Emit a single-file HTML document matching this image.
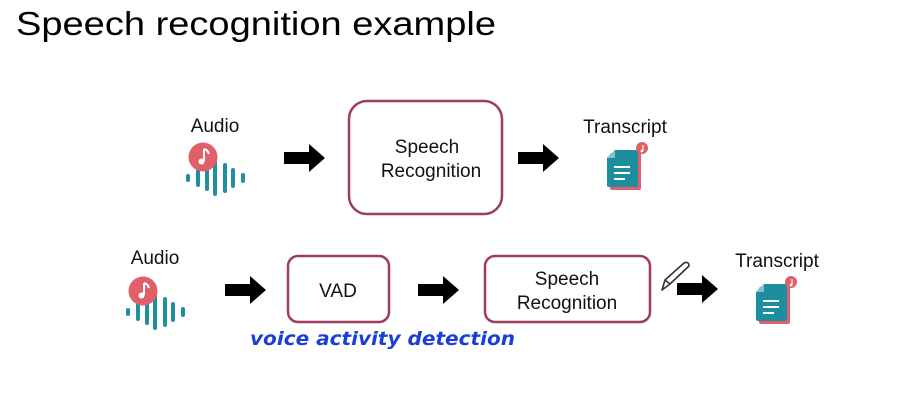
<!DOCTYPE html>
<html><head><meta charset="utf-8"><style>
html,body{margin:0;padding:0;background:#fff;width:910px;height:410px;overflow:hidden}
</style></head><body>
<svg width="910" height="410" viewBox="0 0 910 410" xmlns="http://www.w3.org/2000/svg">
<defs>
<g id="audio">
  <rect x="-17" y="-4" width="4" height="8" rx="2" fill="#1f8fa1"/>
  <rect x="-7" y="-9" width="4" height="18" rx="2" fill="#1f8fa1"/>
  <rect x="2" y="-13" width="4" height="26" rx="2" fill="#1f8fa1"/>
  <rect x="10" y="-18" width="4" height="36" rx="2" fill="#1f8fa1"/>
  <rect x="20" y="-15" width="4" height="30" rx="2" fill="#1f8fa1"/>
  <rect x="28" y="-10" width="4" height="20" rx="2" fill="#1f8fa1"/>
  <rect x="38" y="-5" width="4" height="10" rx="2" fill="#1f8fa1"/>
  <circle cx="0" cy="-21" r="14.5" fill="#e05f69"/>
  <path d="M1 -29 L1 -17" stroke="#fff" stroke-width="2"/>
  <path d="M1 -29 Q5 -28 6 -24" stroke="#fff" stroke-width="2" fill="none"/>
  <circle cx="-1.5" cy="-16.5" r="3" fill="#fff"/>
</g>
<g id="doc">
  <rect x="3" y="3" width="31" height="37" rx="2" fill="#e05f69"/>
  <path d="M8 0 H30 Q31 0 31 2 V36 Q31 37 29 37 H2 Q0 37 0 35 V8 Z" fill="#1d8ea0"/>
  <path d="M0 8 L8 0 L8 8 Z" fill="#7cc4cf"/>
  <rect x="7" y="16" width="16" height="2" fill="#fff"/>
  <rect x="7" y="22" width="16" height="2" fill="#fff"/>
  <rect x="7" y="28" width="11" height="2" fill="#fff"/>
  <circle cx="35" cy="-2" r="6" fill="#e05f69"/>
  <path d="M36 -5 V1" stroke="#fff" stroke-width="1.2"/>
  <circle cx="35" cy="1" r="1.4" fill="#fff"/>
</g>
<path id="arr" d="M0 -6 H25 V-14 L41 0 L25 14 V6 H0 Z" fill="#000"/>
</defs>
<text x="16" y="35" font-family="Liberation Sans, sans-serif" font-size="33" textLength="480" lengthAdjust="spacingAndGlyphs" fill="#000">Speech recognition example</text>
<g font-family="Liberation Sans, sans-serif" font-size="19" fill="#111" text-anchor="middle">
<text x="215" y="132">Audio</text>
<text x="625" y="133">Transcript</text>
<text x="155" y="264">Audio</text>
<text x="777" y="267">Transcript</text>
<text x="427" y="153">Speech</text>
<text x="431" y="177">Recognition</text>
<text x="338" y="297">VAD</text>
<text x="567" y="285">Speech</text>
<text x="567" y="309">Recognition</text>
</g>
<use href="#audio" x="203" y="178"/>
<use href="#audio" x="143" y="312"/>
<use href="#doc" x="607" y="150"/>
<use href="#doc" x="756" y="284"/>
<use href="#arr" x="284" y="158"/>
<use href="#arr" x="518" y="158"/>
<use href="#arr" x="225" y="290"/>
<use href="#arr" x="418" y="290"/>
<use href="#arr" x="677" y="289"/>
<g fill="none" stroke="#9e3d5f" stroke-width="2.5">
<rect x="349" y="101" width="153" height="113" rx="18"/>
<rect x="288" y="256" width="101" height="66" rx="10"/>
<rect x="485" y="256" width="165" height="66" rx="10"/>
</g>
<g fill="none" stroke="#333" stroke-width="1.6" stroke-linejoin="round">
<path d="M662 290 L665 280 L684 263 Q689 261 689 266 L670 284 Z"/>
<path d="M665 280 L670 284"/>
</g>
<text x="250" y="345" font-family="DejaVu Sans, sans-serif" font-style="italic" font-weight="bold" font-size="19" fill="#1a3fd6" textLength="265" lengthAdjust="spacingAndGlyphs">voice activity detection</text>
</svg>
</body></html>
